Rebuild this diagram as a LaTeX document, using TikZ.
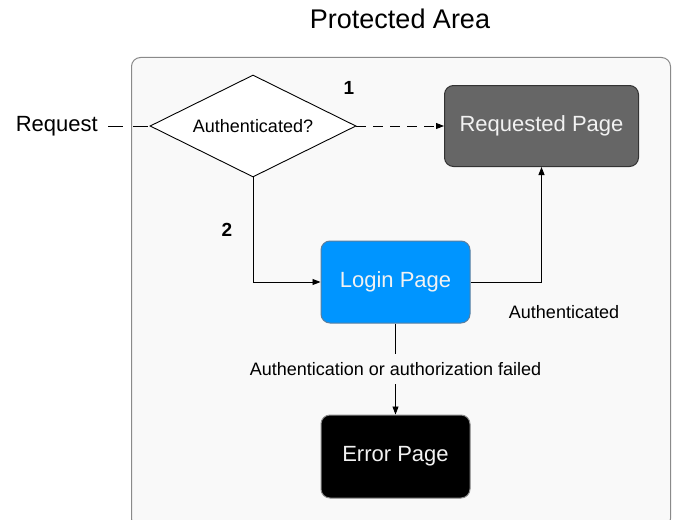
\documentclass[tikz,border=0pt]{standalone}
\usepackage{fontspec}
\setmainfont{Liberation Sans}
\usetikzlibrary{shapes.geometric,arrows.meta}
\definecolor{bgarea}{HTML}{F9F9F9}
\definecolor{areaborder}{HTML}{8A8A8A}
\definecolor{reqfill}{HTML}{666666}
\definecolor{reqborder}{HTML}{333333}
\definecolor{loginfill}{HTML}{0095FF}
\definecolor{loginborder}{HTML}{5A7FA0}
\definecolor{boxtext}{HTML}{F2F2F2}
\tikzset{
  pagebox/.style={draw, line width=1pt, rounded corners=9pt, minimum width=194pt, minimum height=81pt, text=boxtext, font=\fontsize{22}{26}\selectfont, inner sep=0pt},
  conn/.style={line width=0.9pt, draw=black},
  tip/.style={-{Triangle[length=8pt,width=6pt]}},
  lbl/.style={font=\fontsize{18}{22}\selectfont, inner sep=0pt},
  num/.style={font=\fontsize{19}{22}\selectfont\bfseries, inner sep=0pt},
}
\begin{document}
\begin{tikzpicture}[x=1pt,y=-1pt]
\useasboundingbox (0,0) rectangle (674,519);
\clip (0,0) rectangle (674,519);
\node[font=\fontsize{27}{32}\selectfont, inner sep=0pt] (title) at (400,19) {Protected Area};
\node[draw=areaborder, fill=bgarea, line width=1pt, rounded corners=9pt, minimum width=539pt, minimum height=470pt, inner sep=0pt, anchor=north west] (area) at (131,57) {};
\node[diamond, draw, fill=white, line width=0.9pt, minimum width=206pt, minimum height=102pt, inner sep=0pt, aspect=2, font=\fontsize{18}{22}\selectfont] (dec) at (253,126) {Authenticated?};
\node[font=\fontsize{22}{26}\selectfont, inner sep=0pt, anchor=east] (req) at (98,126) {Request};
\node[pagebox, fill=reqfill, draw=reqborder] (rp) at (541.5,126) {Requested Page};
\node[pagebox, fill=loginfill, draw=loginborder, minimum width=149pt, minimum height=82pt] (lp) at (395.5,282) {Login Page};
\node[pagebox, fill=black, draw=areaborder, minimum width=149pt, minimum height=83pt] (ep) at (395.5,456.5) {Error Page};
\node[num] (n1) at (349,88) {1};
\node[num] (n2) at (227,230) {2};
\coordinate (reqend) at ([xshift=10pt]req.east);
\draw[conn, dash pattern=on 15pt off 10pt] (reqend) -- (dec.west);
\draw[conn, tip, dash pattern=on 10pt off 7pt] (dec.east) -- (rp.west);
\draw[conn, tip] (dec.south) |- (lp.west);
\draw[conn, tip] (lp.east) -| (rp.south);
\node[lbl] (authlbl) at (564,312) {Authenticated};
\draw[conn, tip] (lp.south) -- (ep.north) node[midway, lbl, fill=bgarea, inner ysep=8pt, inner xsep=2pt] (faillbl) {Authentication or authorization failed};
\end{tikzpicture}
\end{document}
